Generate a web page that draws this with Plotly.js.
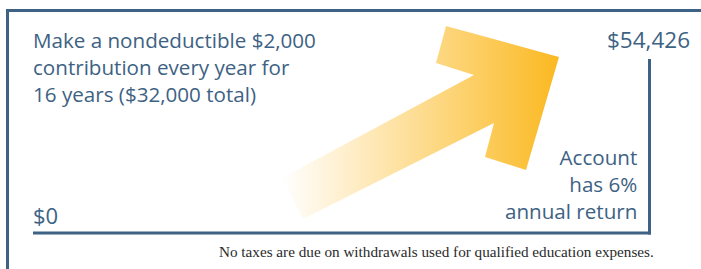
<!DOCTYPE html>
<html>
<head>
<meta charset="utf-8">
<script src="https://cdn.plot.ly/plotly-3.0.1.min.js"></script>
<style>html,body{margin:0;padding:0;background:#fff;}#chart{width:701px;height:269px;}</style>
</head>
<body>
<div id="chart"></div>
<script>
// ---- data ----
const startValue = 0;
const endValue = 54426;
const contribution = 2000;
const years = 16;
const totalContributed = 32000;
const annualReturnPct = 6;
const introLines = ['Make a nondeductible $' + contribution.toLocaleString('en-US'),
                    'contribution every year for',
                    years + ' years ($' + totalContributed.toLocaleString('en-US') + ' total)'];
const returnLines = ['Account', 'has ' + annualReturnPct + '%', 'annual return'];
const footnote = 'No taxes are due on withdrawals used for qualified education expenses.';
// illustrative growth arrow outline (drawing units)
const arrowX = [282, 474, 436, 446, 559, 526, 485, 494, 303, 282];
const arrowY = [178, 75, 63, 26, 57, 170, 157, 123, 219, 178];

// ---- styling ----
const blue = '#3d6283';
const sans = 'Open Sans, Noto Sans, sans-serif';

const arrow = {
  type: 'scatter', mode: 'lines', x: arrowX, y: arrowY,
  fill: 'toself', line: {width: 0, color: 'rgba(0,0,0,0)'},
  fillgradient: {
    type: 'horizontal',
    start: Math.min(...arrowX), stop: Math.max(...arrowX),
    colorscale: [[0, 'rgba(251,185,33,0.0)'], [0.5, 'rgba(251,185,33,0.5)'], [1, 'rgba(251,185,33,1)']]
  },
  hoverinfo: 'skip', showlegend: false
};

const ln = (x0, y0, x1, y1) => ({type: 'line', xref: 'x', yref: 'y', x0, y0, x1, y1,
  line: {color: blue, width: 3}});

const txt = (text, x, y, xanchor, size, align) => ({x, y, xanchor, yanchor: 'middle', showarrow: false,
  text, align: align || 'left', borderpad: 0, font: {family: sans, size, color: blue}});

const annotations = [
  txt(introLines.join('<br>'), 32, 67, 'left', 20.6, 'left'),
  txt(returnLines.join('<br>'), 638, 184, 'right', 20.6, 'right'),
  txt('$' + endValue.toLocaleString('en-US'), 691, 39.5, 'right', 22.5),
  txt('$' + startValue, 32, 215, 'left', 22),
  {x: 655, y: 251, xanchor: 'right', yanchor: 'middle', showarrow: false,
   text: footnote, borderpad: 0, font: {family: 'Liberation Serif, serif', size: 15.2, color: '#2a2a2a'}}
];

const layout = {
  width: 701, height: 269,
  margin: {l: 0, r: 0, t: 0, b: 0},
  paper_bgcolor: '#fff', plot_bgcolor: '#fff',
  xaxis: {range: [0, 701], visible: false, fixedrange: true},
  yaxis: {range: [269, 0], visible: false, fixedrange: true},
  shapes: [
    ln(6, 10.5, 701, 10.5),
    ln(7.5, 9, 7.5, 269),
    ln(33, 233, 651, 233),
    ln(649.5, 59, 649.5, 234.5)
  ],
  annotations
};

Plotly.newPlot('chart', [arrow], layout, {staticPlot: true, displayModeBar: false});
</script>
</body>
</html>
